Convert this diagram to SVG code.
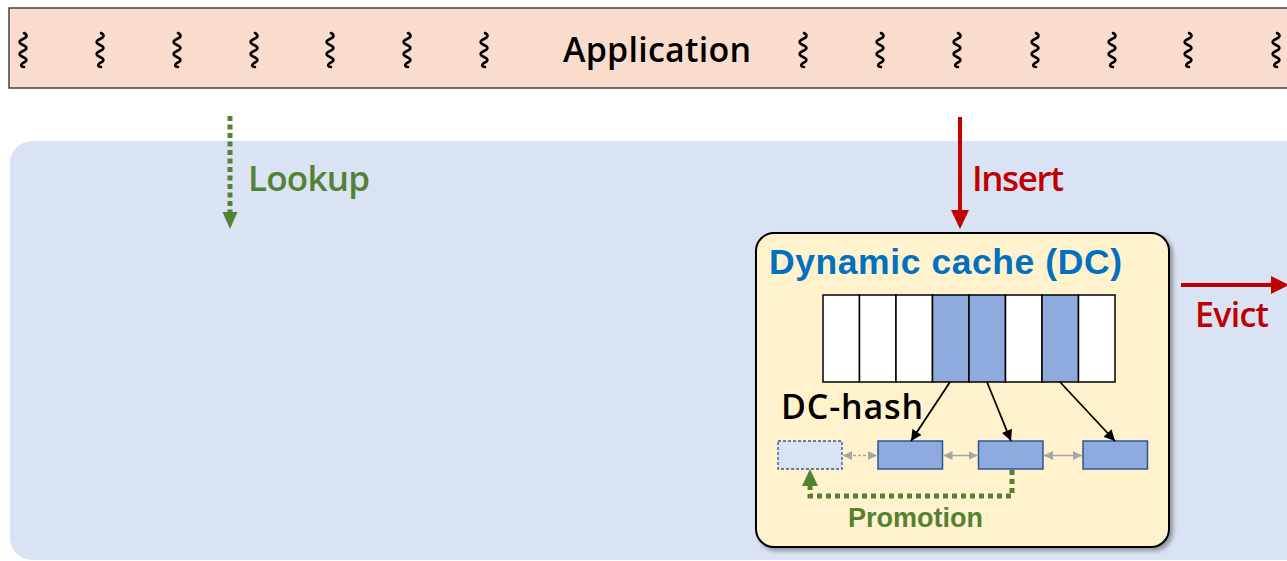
<svg xmlns="http://www.w3.org/2000/svg" width="1287" height="561" viewBox="0 0 1287 561">
<style>
.sq{fill:none;stroke:#000;stroke-width:2.6;stroke-linecap:round}
.lbl{font-family:"Open Sans","Liberation Sans",sans-serif;font-weight:600}
.arl{font-family:"Liberation Sans",Arial,sans-serif;font-weight:bold}
.cell{stroke:#000;stroke-width:1.5}
.hb{fill:#8FAADC;stroke:#2F5597;stroke-width:1.5}
.gray{stroke:#A6A6A6;stroke-width:1.3;fill:none}
</style>
<defs>
<path id="sq" class="sq" d="M1,0 C4.5,2 4.5,4 0,6 C-4.5,8 -4.5,10 0,12 C4.5,14 4.5,16 0,18 C-4.5,20 -4.5,22 0,24 C4.5,26 4.5,28 0,30 C-3,32 -2,34 1,34"/>
<marker id="ga" viewBox="0 0 10 10" refX="10" refY="5" markerWidth="9" markerHeight="9" markerUnits="userSpaceOnUse" orient="auto-start-reverse">
<path d="M0,0 L10,5 L0,10 z" fill="#A6A6A6"/>
</marker>
<marker id="ba" viewBox="0 0 10 10" refX="10" refY="5" markerWidth="11" markerHeight="11" markerUnits="userSpaceOnUse" orient="auto">
<path d="M0,0 L10,5 L0,10 z" fill="#000"/>
</marker>
<filter id="sh" x="-5%" y="-5%" width="112%" height="112%">
<feDropShadow dx="3" dy="3" stdDeviation="2" flood-color="#000" flood-opacity="0.35"/>
</filter>
</defs>

<g id="application">
<rect x="9" y="8" width="1290" height="80" fill="#F9DCCC" stroke="#404040" stroke-width="1.5"/>
<use href="#sq" x="23" y="33"/>
<use href="#sq" x="100" y="33"/>
<use href="#sq" x="177" y="33"/>
<use href="#sq" x="254" y="33"/>
<use href="#sq" x="330" y="33"/>
<use href="#sq" x="407" y="33"/>
<use href="#sq" x="484" y="33"/>
<use href="#sq" x="803" y="33"/>
<use href="#sq" x="880" y="33"/>
<use href="#sq" x="957" y="33"/>
<use href="#sq" x="1035" y="33"/>
<use href="#sq" x="1112" y="33"/>
<use href="#sq" x="1188" y="33"/>
<use href="#sq" x="1276" y="33"/>
<text class="lbl" x="563" y="62" font-size="34" textLength="188" fill="#000">Application</text>
</g>

<g id="system">
<rect x="10" y="141" width="1300" height="419" rx="22" fill="#DAE3F3"/>
</g>

<g id="dc">
<rect x="756" y="233" width="413" height="314" rx="18" fill="#FFF2CC" stroke="#000" stroke-width="2" filter="url(#sh)"/>
<text class="arl" x="769" y="274" font-size="35.5" textLength="353" fill="#0070C0">Dynamic cache (DC)</text>
<rect class="cell" x="823" y="295" width="36.5" height="87" fill="#FFF"/>
<rect class="cell" x="859.5" y="295" width="36.5" height="87" fill="#FFF"/>
<rect class="cell" x="896" y="295" width="36.5" height="87" fill="#FFF"/>
<rect class="cell" x="932.5" y="295" width="36.5" height="87" fill="#8FAADC"/>
<rect class="cell" x="969" y="295" width="36.5" height="87" fill="#8FAADC"/>
<rect class="cell" x="1005.5" y="295" width="36.5" height="87" fill="#FFF"/>
<rect class="cell" x="1042" y="295" width="36.5" height="87" fill="#8FAADC"/>
<rect class="cell" x="1078.5" y="295" width="36.5" height="87" fill="#FFF"/>
<text class="lbl" x="781" y="419" font-size="34" textLength="142" fill="#000">DC-hash</text>
<rect x="778" y="441" width="64" height="28" fill="#DAE3F3" stroke="#2F5597" stroke-width="1.3" stroke-dasharray="3 2"/>
<rect class="hb" x="878" y="441" width="64.5" height="28"/>
<rect class="hb" x="978.5" y="441" width="64.5" height="28"/>
<rect class="hb" x="1083" y="441" width="64.5" height="28"/>
<text class="arl" x="848" y="527" font-size="27" textLength="135" fill="#548235">Promotion</text>
</g>

<g id="connectors">
<line x1="230" y1="116" x2="230" y2="213" stroke="#548235" stroke-width="5" stroke-dasharray="5 3.5"/>
<path d="M222.5,212 L237.5,212 L230,229 z" fill="#548235"/>
<text class="lbl" x="248" y="191" font-size="35" textLength="122" fill="#548235">Lookup</text>

<line x1="960" y1="117" x2="960" y2="212" stroke="#C00000" stroke-width="4"/>
<path d="M951,210 L969,210 L960,229 z" fill="#C00000"/>
<text class="lbl" x="972" y="191" font-size="35" textLength="92" fill="#C00000">Insert</text>

<line x1="1181" y1="285" x2="1273" y2="285" stroke="#C00000" stroke-width="4"/>
<path d="M1271,276 L1289,285 L1271,294 z" fill="#C00000"/>
<text class="lbl" x="1195" y="327" font-size="34" textLength="74" fill="#C00000">Evict</text>

<line x1="950" y1="382" x2="911" y2="441" stroke="#000" stroke-width="1.8" marker-end="url(#ba)"/>
<line x1="987" y1="382" x2="1011" y2="441" stroke="#000" stroke-width="1.8" marker-end="url(#ba)"/>
<line x1="1060" y1="382" x2="1115" y2="441" stroke="#000" stroke-width="1.8" marker-end="url(#ba)"/>

<line class="gray" x1="843" y1="455.5" x2="877" y2="455.5" stroke-dasharray="3 2" marker-start="url(#ga)" marker-end="url(#ga)"/>
<line class="gray" x1="943.5" y1="455.5" x2="977.5" y2="455.5" marker-start="url(#ga)" marker-end="url(#ga)"/>
<line class="gray" x1="1044" y1="455.5" x2="1082" y2="455.5" marker-start="url(#ga)" marker-end="url(#ga)"/>

<path d="M1012,470 L1012,496 L810,496 L810,482" fill="none" stroke="#548235" stroke-width="5" stroke-dasharray="5 4"/>
<path d="M802,486 L818,486 L810,469 z" fill="#548235"/>
</g>
</svg>
